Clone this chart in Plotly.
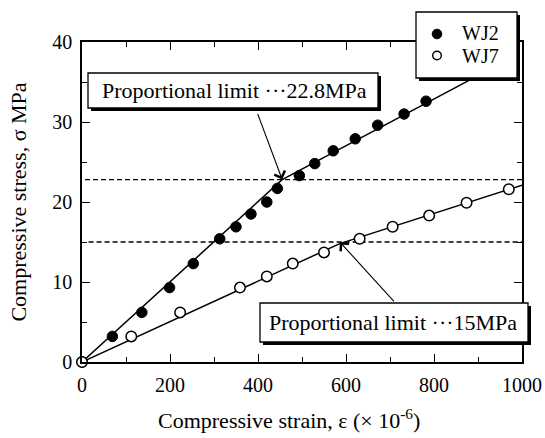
import plotly.graph_objects as go

# ---- data ----
wj2_strain = [0, 69, 136, 199, 253, 313, 350, 384, 420, 444, 494, 529, 571, 621, 672, 732, 782]
wj2_stress = [0, 3.2, 6.2, 9.3, 12.3, 15.4, 16.9, 18.5, 20.0, 21.7, 23.3, 24.8, 26.4, 27.9, 29.6, 31.0, 32.6]

wj7_strain = [0, 112, 223, 359, 420, 479, 550, 631, 706, 789, 874, 970]
wj7_stress = [0, 3.2, 6.2, 9.3, 10.7, 12.3, 13.7, 15.4, 16.9, 18.3, 19.9, 21.6]

wj2_fit_x = [0, 455, 900]
wj2_fit_y = [0, 22.8, 35.8]
wj7_fit_x = [0, 586, 1000]
wj7_fit_y = [0, 14.8, 22.1]

limit_wj2 = 22.8
limit_wj7 = 15.0
limit2_x = [7, 1000]
limit7_x = [15, 1000]

series_names = ["WJ2", "WJ7"]
label_wj2 = "Proportional limit \u00b7\u00b7\u00b722.8MPa"
label_wj7 = "Proportional limit \u00b7\u00b7\u00b715MPa"
x_title = "Compressive strain, \u03b5 (\u00d7 10<sup>-6</sup>)"
y_title = "Compressive stress, \u03c3 MPa"

FONT = "Liberation Serif"
W, H = 545, 438
ML, MR, MT, MB = 82, 23, 42, 76
PW, PH = W - ML - MR, H - MT - MB


def px(xp):
    return (xp - ML) / PW


def py(yp):
    return (H - MB - yp) / PH


fig = go.Figure()

# fitted curves
fig.add_trace(go.Scatter(x=wj2_fit_x, y=wj2_fit_y, mode="lines",
                         line=dict(color="black", width=1.5), showlegend=False, hoverinfo="skip"))
fig.add_trace(go.Scatter(x=wj7_fit_x, y=wj7_fit_y, mode="lines",
                         line=dict(color="black", width=1.5), showlegend=False, hoverinfo="skip"))
# proportional limit lines
fig.add_trace(go.Scatter(x=limit2_x, y=[limit_wj2] * 2, mode="lines",
                         line=dict(color="black", width=1.4, dash="5px,3px"), showlegend=False))
fig.add_trace(go.Scatter(x=limit7_x, y=[limit_wj7] * 2, mode="lines",
                         line=dict(color="black", width=1.4, dash="5px,3px"), showlegend=False))

# data points
fig.add_trace(go.Scatter(x=wj2_strain, y=wj2_stress, mode="markers", name=series_names[0],
                         marker=dict(symbol="circle", size=10.5, color="black",
                                     line=dict(color="black", width=1)),
                         cliponaxis=False, showlegend=False))
fig.add_trace(go.Scatter(x=wj7_strain, y=wj7_stress, mode="markers", name=series_names[1],
                         marker=dict(symbol="circle", size=10.5, color="white",
                                     line=dict(color="black", width=1.5)),
                         cliponaxis=False, showlegend=False))

shapes = []


def box(x0, y0, x1, y1, off=3):
    shapes.append(dict(type="rect", xref="paper", yref="paper",
                       x0=px(x0 + off), x1=px(x1 + off), y0=py(y0 + off), y1=py(y1 + off),
                       fillcolor="black", line=dict(width=0), layer="above"))
    shapes.append(dict(type="rect", xref="paper", yref="paper",
                       x0=px(x0), x1=px(x1), y0=py(y0), y1=py(y1),
                       fillcolor="white", line=dict(color="black", width=1.3), layer="above"))


# legend frame and annotation frames
box(416, 12, 517, 78)
box(88, 73, 378, 108)
box(260, 303, 528, 342)


def legend_marker(cx, cy, r, fill, lw):
    shapes.append(dict(type="circle", xref="paper", yref="paper",
                       xsizemode="pixel", ysizemode="pixel",
                       xanchor=px(cx), yanchor=py(cy),
                       x0=-r, x1=r, y0=-r, y1=r,
                       fillcolor=fill, line=dict(color="black", width=lw), layer="above"))


legend_marker(437, 34, 4.8, "black", 1)
legend_marker(437, 55.5, 4.3, "white", 1.4)

annotations = [
    dict(xref="paper", yref="paper", x=px(460), y=py(33.5), text=series_names[0],
         showarrow=False, font=dict(family=FONT, size=20, color="black"),
         xanchor="left", yanchor="middle"),
    dict(xref="paper", yref="paper", x=px(460), y=py(56), text=series_names[1],
         showarrow=False, font=dict(family=FONT, size=20, color="black"),
         xanchor="left", yanchor="middle"),
    dict(xref="paper", yref="paper", x=px(234), y=py(90.5), text=label_wj2,
         showarrow=False, font=dict(family=FONT, size=22, color="black"),
         xanchor="center", yanchor="middle"),
    dict(xref="paper", yref="paper", x=px(393), y=py(322.5), text=label_wj7,
         showarrow=False, font=dict(family=FONT, size=22, color="black"),
         xanchor="center", yanchor="middle"),
    dict(xref="paper", yref="paper", x=px(289), y=py(419), text=x_title,
         showarrow=False, font=dict(family=FONT, size=22, color="black"),
         xanchor="center", yanchor="middle"),
    dict(x=455, y=limit_wj2, ax=398, ay=31.2, xref="x", yref="y", axref="x", ayref="y",
         text="", showarrow=True, arrowhead=4, arrowsize=2, arrowwidth=1.1,
         arrowcolor="black", standoff=0, startstandoff=0),
    dict(x=586, y=limit_wj7, ax=712, ay=7.4, xref="x", yref="y", axref="x", ayref="y",
         text="", showarrow=True, arrowhead=4, arrowsize=2, arrowwidth=1.1,
         arrowcolor="black", standoff=0, startstandoff=0),
]

axis_common = dict(
    showline=True, linecolor="black", linewidth=1.5, mirror="ticks",
    ticks="inside", ticklen=8, tickwidth=1.3, tickcolor="black",
    showgrid=False, zeroline=False,
    tickfont=dict(family=FONT, size=20, color="black"),
)

fig.update_xaxes(range=[0, 1000], dtick=200, tick0=0,
                 minor=dict(dtick=100, ticks="inside", ticklen=5, tickcolor="black", tickwidth=1.2),
                 ticklabelstandoff=4,
                 **axis_common)
fig.update_yaxes(range=[0, 40], dtick=10, tick0=0,
                 minor=dict(dtick=5, ticks="inside", ticklen=5, tickcolor="black", tickwidth=1.2),
                 title=dict(text=y_title,
                            font=dict(family=FONT, size=22, color="black"), standoff=20),
                 ticklabelstandoff=4,
                 **axis_common)

fig.update_layout(
    width=W, height=H,
    margin=dict(l=ML, r=MR, t=MT, b=MB, autoexpand=False),
    paper_bgcolor="white", plot_bgcolor="white",
    shapes=shapes, annotations=annotations,
    showlegend=False,
    font=dict(family=FONT, color="black"),
)

fig.write_html("out.html")
